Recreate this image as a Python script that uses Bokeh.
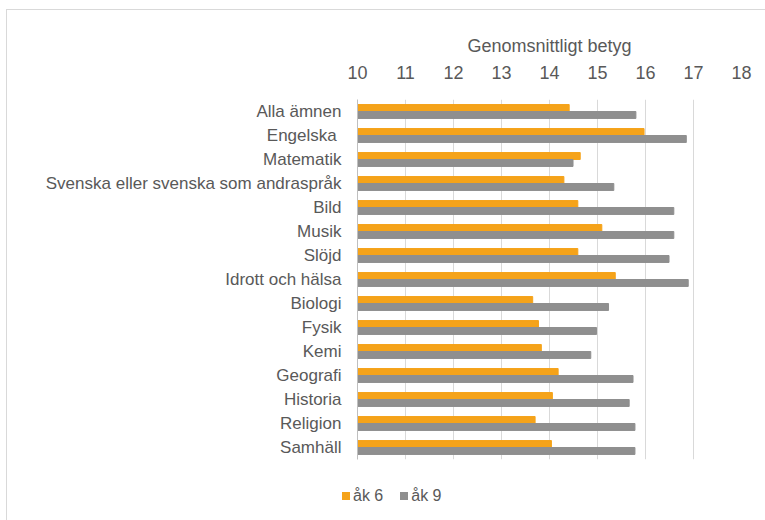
from bokeh.plotting import figure
from bokeh.layouts import column
from bokeh.models import FactorRange, Range1d, FixedTicker, ColumnDataSource, Div
from bokeh.transform import dodge
from bokeh.embed import file_html
from bokeh.resources import INLINE

categories = ["Alla ämnen", "Engelska ", "Matematik",
              "Svenska eller svenska som andraspråk", "Bild", "Musik", "Slöjd",
              "Idrott och hälsa", "Biologi", "Fysik", "Kemi", "Geografi",
              "Historia", "Religion", "Samhäll"]
ak6 = [14.41, 15.97, 14.64, 14.30, 14.59, 15.09, 14.59, 15.37, 13.65, 13.77,
       13.83, 14.18, 14.06, 13.70, 14.04]
ak9 = [15.80, 16.85, 14.49, 15.34, 16.59, 16.59, 16.49, 16.89, 15.23, 14.98,
       14.86, 15.74, 15.66, 15.78, 15.78]
x_ticks = [10, 11, 12, 13, 14, 15, 16, 17, 18]
series_names = ["åk 6", "åk 9"]
colors = ["#F5A31A", "#8F8F8F"]

FONT = "Liberation Sans"
TXT = "#595959"

src = ColumnDataSource(dict(cat=categories, ak6=ak6, ak9=ak9))

p = figure(width=757, height=450,
           y_range=FactorRange(factors=categories[::-1]),
           x_range=Range1d(10, 18), x_axis_location="above",
           output_backend="svg", toolbar_location=None,
           min_border_left=350, min_border_right=23,
           min_border_top=89, min_border_bottom=1)

p.hbar(y=dodge("cat", 0.145, range=p.y_range), left=10, right="ak6",
       height=0.29, source=src, color=colors[0])
p.hbar(y=dodge("cat", -0.145, range=p.y_range), left=10, right="ak9",
       height=0.29, source=src, color=colors[1])

xa = p.xaxis[0]
xa.ticker = FixedTicker(ticks=x_ticks)
xa.axis_label = "Genomsnittligt betyg"
xa.axis_label_text_font = FONT
xa.axis_label_text_font_style = "normal"
xa.axis_label_text_font_size = "18px"
xa.axis_label_text_color = TXT
xa.axis_label_standoff = 7
xa.major_label_text_font = FONT
xa.major_label_text_font_size = "18px"
xa.major_label_text_color = TXT
xa.major_label_standoff = 15
xa.axis_line_color = None
xa.major_tick_line_color = None
xa.minor_tick_line_color = None

ya = p.yaxis[0]
ya.major_label_text_font = FONT
ya.major_label_text_font_size = "17px"
ya.major_label_text_color = TXT
ya.major_label_standoff = 10
ya.axis_line_color = "#BFBFBF"
ya.major_tick_line_color = None
ya.minor_tick_line_color = None

p.xgrid.grid_line_color = "#D9D9D9"
p.xgrid.grid_line_width = 1
p.ygrid.grid_line_color = None
p.outline_line_color = None

# legend strip below the chart
items_html = "".join(
    f'<span style="display:inline-block;width:8px;height:8px;background:{c};'
    f'margin-right:3px;vertical-align:middle;"></span>'
    f'<span style="margin-right:17px;vertical-align:middle;">{n}</span>'
    for n, c in zip(series_names, colors))
legend_div = Div(text=items_html, width=757, height=58,
                 styles={"font-family": FONT, "font-size": "16px",
                         "color": TXT, "padding-left": "330px",
                         "padding-top": "21px", "box-sizing": "border-box",
                         "white-space": "nowrap", "line-height": "18px"})

layout = column(p, legend_div, spacing=0)
layout.styles = {"border-top": "1px solid #d9d9d9",
                 "border-left": "1px solid #d9d9d9",
                 "margin-top": "9px", "margin-left": "6px"}

open("out.html", "w").write(file_html(layout, INLINE))
